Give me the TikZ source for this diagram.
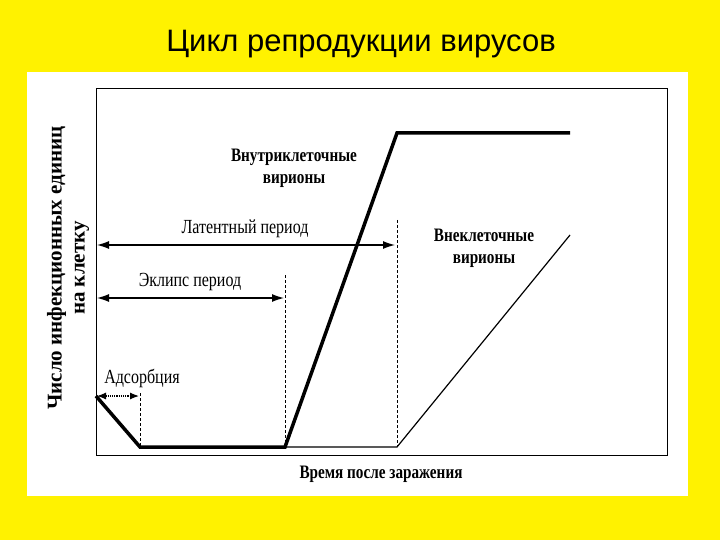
\documentclass[tikz,border=0pt]{standalone}
\usepackage{fontspec}
\setmainfont{Liberation Serif}
\newfontfamily\titlefont{Liberation Sans}
\usetikzlibrary{arrows.meta}
\begin{document}
\begin{tikzpicture}[x=1pt,y=-1pt,
  lbl/.style={font=\fontsize{20}{21}\selectfont, xscale=0.8, align=center, inner sep=0},
  blbl/.style={lbl, font=\fontsize{19}{22}\selectfont\bfseries},
  thick curve/.style={line width=3.5pt, line join=miter},
  thin curve/.style={line width=1.2pt},
  guide/.style={densely dashed, line width=0.4pt},
  span/.style={{Latex[length=12pt,width=8pt]}-{Latex[length=12pt,width=8pt]}, line width=1.2pt}]
\fill[yellow] (0,0) rectangle (720,540);
\useasboundingbox (0,0) rectangle (720,540);
\fill[white] (27,72) rectangle (688,496);
\draw[line width=0.8pt] (96,88) rectangle (667,455);
\node[font=\titlefont\fontsize{31}{34}\selectfont] (title) at (361,44) {Цикл репродукции вирусов};
\coordinate (a0) at (96,396);
\coordinate (a1) at (140,447);
\coordinate (e1) at (285,447);
\coordinate (l1) at (397,133);
\coordinate (l2) at (570,133);
\coordinate (x1) at (397,447);
\coordinate (x2) at (570,235);
\coordinate (g1t) at (140,393);
\coordinate (g2t) at (285,275);
\coordinate (g3t) at (397,220);
\draw[guide] (g1t) -- (a1);
\draw[guide] (g2t) -- (e1);
\draw[guide] (g3t) -- (x1);
\draw[thin curve] (e1) -- (x1) -- (x2);
\draw[thick curve] (a0) -- (a1) -- (e1) -- (l1) -- (l2);
\coordinate (lat0) at (97,245); \coordinate (lat1) at (395,245);
\coordinate (ecl0) at (97,298); \coordinate (ecl1) at (284,298);
\coordinate (ads0) at (97,396); \coordinate (ads1) at (139,396);
\draw[span] (lat0) -- (lat1);
\draw[span] (ecl0) -- (ecl1);
\draw[{Latex[length=9pt,width=7pt]}-{Latex[length=9pt,width=7pt]}, densely dotted, line width=1.2pt] (ads0) -- (ads1);
\node[blbl] (intra) at (294,168) {Внутриклеточные\\вирионы};
\node[lbl] (lat) at (245,229) {Латентный период};
\node[lbl] (ecl) at (190,282) {Эклипс период};
\node[blbl] (extra) at (484,248) {Внеклеточные\\вирионы};
\node[lbl] (ads) at (142,378) {Адсорбция};
\node[blbl] (xlab) at (381,474) {Время после заражения};
\node[font=\fontsize{21}{23}\selectfont\bfseries, rotate=90, align=center, inner sep=0] (ylab) at (68,268) {Число инфекционных единиц\\на клетку};
\end{tikzpicture}
\end{document}
